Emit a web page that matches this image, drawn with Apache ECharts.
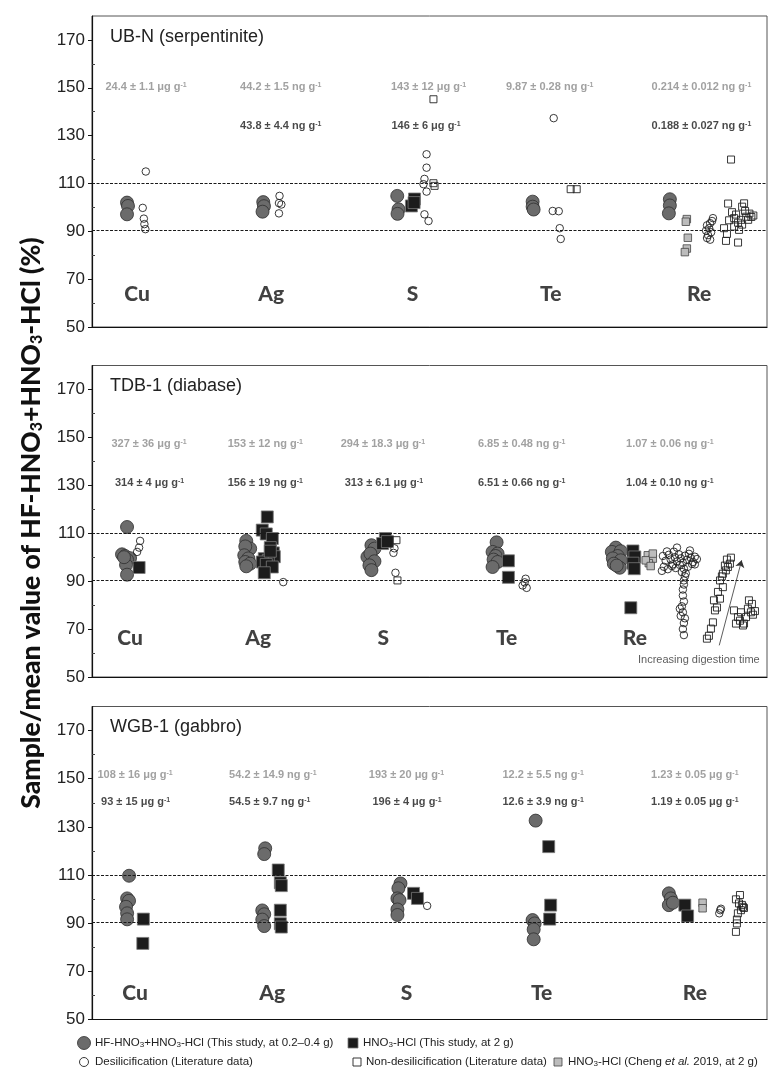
<!DOCTYPE html>
<html>
<head>
<meta charset="utf-8">
<script src="https://cdn.jsdelivr.net/npm/echarts@6/dist/echarts.min.js"></script>
<style>
  html, body { margin: 0; padding: 0; background: #fff; }
  #chart { width: 768px; height: 1075px; }
</style>
</head>
<body>
<div id="chart"></div>
<script>
// ---------------------------------------------------------------------------
// Data: recovery (sample / mean value, %) per element.
// Each point is [element index, horizontal jitter within the element group, value].
// ---------------------------------------------------------------------------
const elements = ['Cu', 'Ag', 'S', 'Te', 'Re'];
const yTicks = [50, 70, 90, 110, 130, 150, 170];
const yMinorTicks = [60, 80, 100, 120, 140, 160];
const refLines = [90.5, 110];

// UB-N (serpentinite)
const ubnHF = [[0,-0.046,102.0],[0,-0.039,100.6],[0,-0.046,97.1],
  [1,-0.075,102.2],[1,-0.07,100.5],[1,-0.08,98.2],
  [2,-0.12,104.8],[2,-0.111,99.2],[2,-0.118,97.3],
  [3,-0.155,102.4],[3,-0.155,100.3],[3,-0.148,99.1],
  [4,-0.177,103.4],[4,-0.177,100.8],[4,-0.184,97.5]];
const ubnAqua = [[2,0.003,103.5],[2,-0.019,100.6],[2,0,102.0]];
const ubnCheng = [[4,-0.056,95.1],[4,-0.063,94.0],[4,-0.049,87.3],[4,-0.056,82.8],[4,-0.07,81.3]];
const ubnDesil = [[0,0.088,115.0],[0,0.066,99.8],[0,0.074,95.3],[0,0.078,93.0],[0,0.085,90.9],
  [1,0.041,104.8],[1,0.037,101.8],[1,0.054,101.2],[1,0.037,97.5],
  [2,0.089,122.2],[2,0.089,116.6],[2,0.074,111.9],[2,0.067,109.7],[2,0.089,106.6],[2,0.074,97.1],[2,0.103,94.3],
  [3,-0.005,137.3],[3,-0.012,98.5],[3,0.031,98.4],[3,0.038,91.3],[3,0.045,86.8],
  [4,0.13,95.5],[4,0.124,94.3],[4,0.11,93.4],[4,0.088,92.5],[4,0.103,91.3],[4,0.081,90.3],
  [4,0.117,89.6],[4,0.095,88.4],[4,0.088,87.2],[4,0.11,86.5]];
const ubnNonDesil = [[2,0.138,145.2],[2,0.138,110.1],[2,0.146,109.0],
  [3,0.116,107.6],[3,0.159,107.6],
  [4,0.238,101.6],[4,0.352,101.7],[4,0.338,100.3],[4,0.266,98.0],[4,0.39,97.4],[4,0.367,96.1],
  [4,0.404,96.0],[4,0.281,95.5],[4,0.33,94.8],[4,0.381,94.8],[4,0.245,94.6],[4,0.309,93.6],
  [4,0.418,96.6],[4,0.295,97.0],[4,0.209,91.3],[4,0.316,90.6],[4,0.23,88.9],[4,0.223,86.0],
  [4,0.309,85.3],[4,0.259,120.0],[4,0.359,98.5],[4,0.338,92.8],[4,0.281,92.0]];
const ubnRefConc = ['24.4 ± 1.1 μg', '44.2 ± 1.5 ng', '143 ± 12 μg', '9.87 ± 0.28 ng', '0.214 ± 0.012 ng'];
const ubnMeasConc = [null, '43.8 ± 4.4 ng', '146 ± 6 μg', null, '0.188 ± 0.027 ng'];

// TDB-1 (diabase)
const tdbHF = [[0,-0.032,112.6],[0,-0.072,101.2],[0,-0.048,100.5],[0,-0.008,99.6],[0,-0.032,99.0],
  [0,-0.04,96.8],[0,-0.032,92.7],[0,-0.056,100.0],
  [1,-0.084,106.8],[1,-0.053,103.6],[1,-0.092,104.5],[1,-0.1,100.8],[1,-0.068,99.5],
  [1,-0.092,98.0],[1,-0.053,97.3],[1,-0.084,96.2],
  [2,-0.089,105.0],[2,-0.065,103.6],[2,-0.121,100.1],[2,-0.097,101.5],[2,-0.065,98.3],
  [2,-0.105,96.6],[2,-0.089,94.6],
  [3,-0.094,106.2],[3,-0.126,102.2],[3,-0.086,101.5],[3,-0.102,100.5],[3,-0.118,99.0],
  [3,-0.086,98.0],[3,-0.126,95.9],
  [4,-0.146,104.0],[4,-0.178,102.2],[4,-0.107,102.5],[4,-0.131,100.5],[4,-0.17,99.5],
  [4,-0.107,98.7],[4,-0.162,97.3],[4,-0.115,95.6],[4,-0.139,96.5]];
const tdbAqua = [[0,0.064,95.7],
  [1,0.083,116.8],[1,0.043,111.3],[1,0.075,109.7],[1,0.123,107.8],[1,0.107,104.0],[1,0.131,101.8],
  [1,0.139,100.2],[1,0.059,99.4],[1,0.091,98.7],[1,0.043,98.0],[1,0.075,97.0],[1,0.123,95.9],
  [1,0.059,93.5],[1,0.107,102.5],
  [2,0.022,107.8],[2,0,105.7],[2,0.038,106.5],
  [3,0,98.5],[3,0,91.6],
  [4,-0.01,102.6],[4,0.005,100.1],[4,-0.01,97.5],[4,0,95.2],[4,-0.027,78.9]];
const tdbCheng = [[4,0.108,100.8],[4,0.148,99.4],[4,0.116,97.5],[4,0.092,98.7],[4,0.148,101.5],[4,0.131,96.3]];
const tdbDesil = [[0,0.072,106.8],[0,0.064,104.0],[0,0.048,102.2],
  [1,0.21,89.6],
  [2,0.094,103.7],[2,0.086,101.8],[2,0.102,93.5],
  [3,0.137,91.0],[3,0.129,89.5],[3,0.113,88.2],[3,0.145,87.2],
  [4,0.228,100.5],[4,0.25,98.5],[4,0.275,101.0],[4,0.29,99.0],[4,0.307,97.0],[4,0.323,100.0],
  [4,0.34,98.2],[4,0.355,101.2],[4,0.37,99.5],[4,0.387,97.6],[4,0.403,100.6],[4,0.419,98.9],
  [4,0.435,101.4],[4,0.45,99.7],[4,0.467,98.0],[4,0.482,100.2],[4,0.498,99.2],[4,0.236,96.0],
  [4,0.267,95.0],[4,0.3,96.3],[4,0.33,95.5],[4,0.363,96.8],[4,0.395,95.2],[4,0.427,96.0],
  [4,0.459,97.2],[4,0.379,93.8],[4,0.41,93.2],[4,0.34,104.0],[4,0.315,102.3],[4,0.22,94.3],
  [4,0.26,102.4],[4,0.443,102.8],[4,0.482,97.0],[4,0.403,92.0],
  [4,0.395,90.3],[4,0.395,88.6],[4,0.387,86.5],[4,0.387,84.0],[4,0.395,81.5],[4,0.379,79.5],
  [4,0.363,78.5],[4,0.387,77.0],[4,0.37,75.5],[4,0.403,74.5],[4,0.395,72.5],[4,0.387,70.0],
  [4,0.395,67.5]];
const tdbNonDesil = [[2,0.11,107.1],[2,0.118,90.3],
  [4,0.578,66.0],[4,0.594,67.2],[4,0.61,70.2],[4,0.626,72.8],[4,0.642,77.8],[4,0.658,79.0],
  [4,0.634,82.0],[4,0.682,82.7],[4,0.666,85.5],[4,0.705,87.5],[4,0.682,90.3],[4,0.697,92.0],
  [4,0.705,93.1],[4,0.729,94.5],[4,0.745,95.9],[4,0.761,97.3],[4,0.737,99.0],[4,0.769,99.8],
  [4,0.721,96.5],
  [4,0.912,82.0],[4,0.936,80.5],[4,0.793,77.8],[4,0.849,77.0],[4,0.928,77.0],[4,0.825,75.0],
  [4,0.889,75.0],[4,0.809,72.3],[4,0.873,72.3],[4,0.944,76.0],[4,0.904,78.5],[4,0.841,73.5],
  [4,0.96,77.5],[4,0.865,71.5]];
const tdbRefConc = ['327 ± 36 μg', '153 ± 12 ng', '294 ± 18.3 μg', '6.85 ± 0.48 ng', '1.07 ± 0.06 ng'];
const tdbMeasConc = ['314 ± 4 μg', '156 ± 19 ng', '313 ± 6.1 μg', '6.51 ± 0.66 ng', '1.04 ± 0.10 ng'];

// WGB-1 (gabbro)
const wgbHF = [[0,-0.023,109.7],[0,-0.037,100.3],[0,-0.023,99.3],[0,-0.045,96.8],[0,-0.037,94.1],[0,-0.037,91.6],
  [1,-0.043,121.1],[1,-0.05,118.7],[1,-0.064,95.3],[1,-0.05,93.7],[1,-0.064,91.5],[1,-0.05,88.8],
  [2,-0.069,106.5],[2,-0.084,104.5],[2,-0.091,100.3],[2,-0.076,99.6],[2,-0.091,95.7],[2,-0.091,93.4],
  [3,-0.096,132.6],[3,-0.118,91.3],[3,-0.103,89.9],[3,-0.11,87.4],[3,-0.11,83.3],
  [4,-0.137,102.4],[4,-0.123,100.3],[4,-0.137,97.5],[4,-0.108,98.5]];
const wgbAqua = [[0,0.08,91.7],[0,0.076,81.6],
  [1,0.051,112.1],[1,0.066,106.8],[1,0.073,105.6],[1,0.066,95.4],[1,0.066,89.8],[1,0.073,88.4],
  [2,0.025,102.4],[2,0.053,100.3],
  [3,-0.002,121.8],[3,0.012,97.5],[3,0.005,91.7],
  [4,-0.022,97.5],[4,-0.002,93.0]];
const wgbCheng = [[4,0.106,98.5],[4,0.106,96.2]];
const wgbDesil = [[2,0.123,97.2],[4,0.233,95.4],[4,0.226,94.1],[4,0.238,96.0]];
const wgbNonDesil = [[4,0.375,101.7],[4,0.346,99.9],[4,0.368,98.2],[4,0.397,96.8],[4,0.382,95.4],
  [4,0.404,96.3],[4,0.36,94.1],[4,0.353,89.9],[4,0.346,86.4],[4,0.389,97.6],[4,0.353,91.5]];
const wgbRefConc = ['108 ± 16 μg', '54.2 ± 14.9 ng', '193 ± 20 μg', '12.2 ± 5.5 ng', '1.23 ± 0.05 μg'];
const wgbMeasConc = ['93 ± 15 μg', '54.5 ± 9.7 ng', '196 ± 4 μg', '12.6 ± 3.9 ng', '1.19 ± 0.05 μg'];

// ---------------------------------------------------------------------------
// Layout and styling
// ---------------------------------------------------------------------------
const FONT = '"Liberation Sans", Arial, Helvetica, sans-serif';
const HEAVY = 'Lato, "Noto Sans", sans-serif';

const panels = [
  { title: 'UB-N (serpentinite)', top: 16, height: 311, xMin: -0.2955, xMax: 4.5153,
    hf: ubnHF, aqua: ubnAqua, cheng: ubnCheng, desil: ubnDesil, nonDesil: ubnNonDesil,
    refConc: ubnRefConc, measConc: ubnMeasConc,
    nameY: 63.7, refY: 150.2, measY: 134,
    nameDx: [0.026, -0.018, -0.011, -0.026, 0.031],
    refDx: [0.09, 0.05, 0.103, -0.034, 0.048],
    measDx: [0, 0.05, 0.085, 0, 0.048] },
  { title: 'TDB-1 (diabase)', top: 365.5, height: 311.5, xMin: -0.3105, xMax: 5.0557,
    hf: tdbHF, aqua: tdbAqua, cheng: tdbCheng, desil: tdbDesil, nonDesil: tdbNonDesil,
    refConc: tdbRefConc, measConc: tdbMeasConc,
    nameY: 66, refY: 147.2, measY: 131,
    nameDx: [-0.008, 0.011, 0.006, -0.014, 0.005],
    refDx: [0.143, 0.067, 0.002, 0.105, 0.283],
    measDx: [0.147, 0.067, 0.01, 0.105, 0.283] },
  { title: 'WGB-1 (gabbro)', top: 706.5, height: 313, xMin: -0.2898, xMax: 4.5696,
    hf: wgbHF, aqua: wgbAqua, cheng: wgbCheng, desil: wgbDesil, nonDesil: wgbNonDesil,
    refConc: wgbRefConc, measConc: wgbMeasConc,
    nameY: 60.9, refY: 151.6, measY: 140.5,
    nameDx: [0.02, 0.008, -0.026, -0.053, 0.05],
    refDx: [0.02, 0.012, -0.026, -0.042, 0.05],
    measDx: [0.024, -0.01, -0.022, -0.042, 0.05] }
];

const markStyles = {
  hf:       { name: 'HF-HNO3+HNO3-HCl (This study)', symbol: 'circle', size: 13, color: '#6b6b6b', border: '#2e2e2e', bw: 0.8, z: 3 },
  aqua:     { name: 'HNO3-HCl (This study)', symbol: 'rect', size: 12, color: '#1c1c1c', border: '#7a7a7a', bw: 0.8, z: 4 },
  cheng:    { name: 'HNO3-HCl (Cheng et al. 2019)', symbol: 'rect', size: 7.5, color: '#bcbcbc', border: '#444', bw: 0.8, z: 5 },
  desil:    { name: 'Desilicification', symbol: 'circle', size: 7.5, color: 'rgba(255,255,255,0)', border: '#222', bw: 0.9, z: 6 },
  nonDesil: { name: 'Non-desilicification', symbol: 'rect', size: 7, color: 'rgba(255,255,255,0)', border: '#222', bw: 0.9, z: 6 }
};

const toPoints = arr => arr.map(d => [d[0] + d[1], d[2]]);

const grids = [], xAxes = [], yAxes = [], series = [], titles = [];

panels.forEach((p, g) => {
  grids.push({ left: 92, width: 675, top: p.top, height: p.height,
    show: true, borderColor: '#555', borderWidth: 1, backgroundColor: 'transparent' });

  xAxes.push({ type: 'value', gridIndex: g, min: p.xMin, max: p.xMax,
    axisLine: { show: true, onZero: false, lineStyle: { color: '#111', width: 1.2 } },
    axisTick: { show: false }, axisLabel: { show: false }, splitLine: { show: false } });

  // main axis: labels and outward major ticks
  yAxes.push({ type: 'value', gridIndex: g, min: 50, max: 180, interval: 20, position: 'left',
    axisLine: { show: true, onZero: false, lineStyle: { color: '#111', width: 1.2 } },
    axisTick: { show: true, length: 4, customValues: yTicks, lineStyle: { color: '#111' } },
    axisLabel: { show: true, customValues: yTicks, margin: 7, fontSize: 17, color: '#222', fontFamily: FONT },
    splitLine: { show: false } });
  // companion axis: inward minor ticks
  yAxes.push({ type: 'value', gridIndex: g, min: 50, max: 180, position: 'left',
    axisLine: { show: false, onZero: false },
    axisTick: { show: true, inside: true, length: 3, customValues: yMinorTicks, lineStyle: { color: '#444' } },
    axisLabel: { show: false }, splitLine: { show: false } });

  titles.push({ text: p.title, left: 105, top: p.top + 6,
    textStyle: { fontSize: 18, fontWeight: 'normal', color: '#222', fontFamily: FONT, lineHeight: 20 } });

  const yIdx = g * 2;

  // dashed reference lines
  series.push({ type: 'scatter', xAxisIndex: g, yAxisIndex: yIdx, data: [], z: 1, silent: true,
    markLine: { silent: true, symbol: 'none', label: { show: false },
      lineStyle: { color: '#1a1a1a', width: 1.2, type: [3, 1.5] },
      data: refLines.map(v => ({ yAxis: v })) } });

  ['hf', 'aqua', 'cheng', 'desil', 'nonDesil'].forEach(key => {
    const s = markStyles[key];
    series.push({ type: 'scatter', name: s.name, xAxisIndex: g, yAxisIndex: yIdx, z: s.z,
      symbol: s.symbol, symbolSize: s.size, data: toPoints(p[key]),
      itemStyle: { color: s.color, borderColor: s.border, borderWidth: s.bw, opacity: 1 } });
  });

  const labelSeries = (texts, dx, y, color, fontWeight, fontFamily, fontSize, rich) => ({
    type: 'scatter', xAxisIndex: g, yAxisIndex: yIdx, silent: true, z: 8,
    symbol: 'rect', symbolSize: 1, itemStyle: { color: 'rgba(0,0,0,0)' },
    data: texts.map((t, i) => t == null ? null : { value: [i + dx[i], y], txt: t }).filter(Boolean),
    label: { show: true, position: 'inside', color, fontWeight, fontFamily, fontSize,
      formatter: prm => rich ? prm.data.txt + ' g{sup|-1}' : prm.data.txt,
      rich: rich || {} }
  });
  const supRich = c => ({ sup: { fontSize: 7, fontWeight: 'bold', color: c, fontFamily: FONT, verticalAlign: 'top', lineHeight: 8, padding: [0, 0, 4, 0] } });

  series.push(labelSeries(elements, p.nameDx, p.nameY, '#111', 900, HEAVY, 21, null));
  series.push(labelSeries(p.refConc, p.refDx, p.refY, '#8a8a8a', 'bold', FONT, 11, supRich('#8a8a8a')));
  series.push(labelSeries(p.measConc, p.measDx, p.measY, '#1a1a1a', 'bold', FONT, 11, supRich('#1a1a1a')));
});

// arrow and note for the time-resolved Re series of TDB-1
series.push({ type: 'scatter', xAxisIndex: 1, yAxisIndex: 2, data: [], z: 7, silent: true,
  markLine: { silent: true, symbol: ['none', 'arrow'], symbolSize: 7, label: { show: false },
    lineStyle: { color: '#333', width: 0.8, type: 'solid' },
    data: [[{ coord: [4.676, 63.2] }, { coord: [4.854, 98.7] }]] } });
series.push({ type: 'scatter', xAxisIndex: 1, yAxisIndex: 2, silent: true, z: 8,
  symbol: 'rect', symbolSize: 1, itemStyle: { color: 'rgba(0,0,0,0)' },
  data: [{ value: [4.514, 57.2] }],
  label: { show: true, position: 'inside', formatter: 'Increasing digestion time',
    fontSize: 11, color: '#333', fontFamily: FONT } });

const chart = echarts.init(document.getElementById('chart'), null, { renderer: 'canvas' });

const subRich = (size, color, weight, family, drop, base) => ({
  sub: { fontSize: size, color, fontWeight: weight, fontFamily: family, verticalAlign: 'bottom', lineHeight: size, padding: [drop, 0, 0, 0] },
  it: { fontStyle: 'italic', fontSize: base, color, fontFamily: family }
});

const legendRows = [
  { y: 1043, items: [
    { x: 84, mark: 'hf', text: 'HF-HNO{sub|3}+HNO{sub|3}-HCl (This study, at 0.2–0.4 g)', tx: 95 },
    { x: 353, mark: 'aqua', text: 'HNO{sub|3}-HCl (This study, at 2 g)', tx: 363 } ] },
  { y: 1062, items: [
    { x: 84, mark: 'desil', text: 'Desilicification (Literature data)', tx: 95 },
    { x: 357, mark: 'nonDesil', text: 'Non-desilicification (Literature data)', tx: 366 },
    { x: 558, mark: 'cheng', text: 'HNO{sub|3}-HCl (Cheng {it|et al.} 2019, at 2 g)', tx: 568 } ] }
];
const legendIcon = (key, x, y) => {
  const s = markStyles[key];
  const st = { fill: s.color === 'rgba(255,255,255,0)' ? '#fff' : s.color, stroke: s.border, lineWidth: s.bw };
  if (s.symbol === 'circle') {
    const r = key === 'hf' ? 6.5 : 4.5;
    return { type: 'circle', shape: { cx: x, cy: y, r }, style: st };
  }
  const w = key === 'aqua' ? 10 : 8;
  return { type: 'rect', shape: { x: x - w / 2, y: y - w / 2, width: w, height: w }, style: st };
};
const graphics = [];
legendRows.forEach(row => row.items.forEach(it => {
  graphics.push(legendIcon(it.mark, it.x, row.y));
  graphics.push({ type: 'text', x: it.tx, y: row.y,
    style: { text: it.text, fontSize: 11.5, fill: '#222', fontFamily: FONT,
      verticalAlign: 'middle', align: 'left', rich: subRich(8, '#222', 'normal', FONT, 6, 11.5) } });
}));
// y-axis title
graphics.push({ type: 'text', x: 31, y: 523, rotation: Math.PI / 2,
  style: { text: 'Sample/mean value of HF-HNO{sub|3}+HNO{sub|3}-HCl (%)', fontSize: 26.5, fontWeight: 900,
    fill: '#111', fontFamily: HEAVY, align: 'center', verticalAlign: 'middle',
    rich: subRich(16, '#111', 900, HEAVY, 11, 26.5) } });

chart.setOption({
  animation: false,
  backgroundColor: '#fff',
  title: titles,
  grid: grids,
  xAxis: xAxes,
  yAxis: yAxes,
  series: series,
  graphic: graphics
});
</script>
</body>
</html>
